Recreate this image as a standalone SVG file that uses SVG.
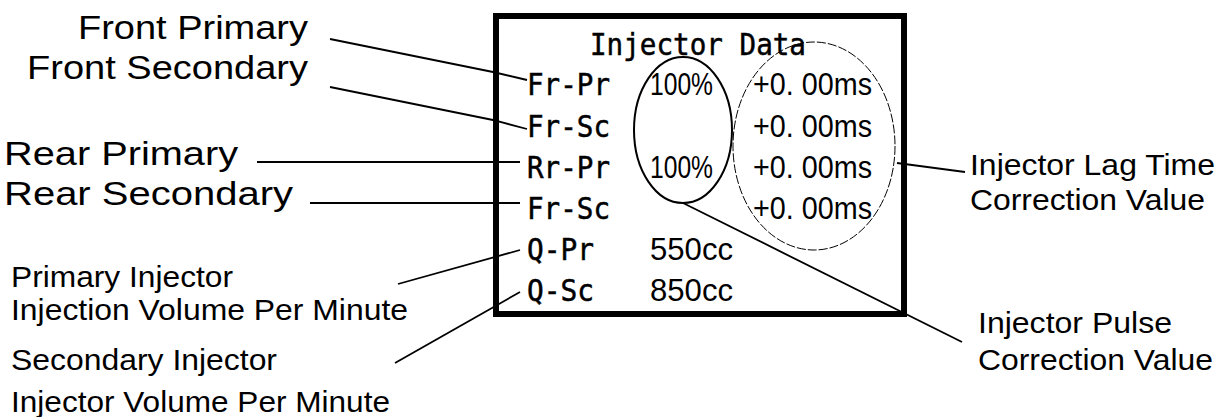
<svg xmlns="http://www.w3.org/2000/svg" width="1219" height="417" viewBox="0 0 1219 417">
<style>
.lbl{font-family:"Liberation Sans",Arial,sans-serif;fill:#000}
.big{font-size:34px}
.sm{font-size:30px}
.mono{font-family:"DejaVu Sans Mono","Liberation Mono",monospace;font-size:30px;fill:#000;stroke:#000;stroke-width:0.5}
.val{font-family:"Liberation Sans",Arial,sans-serif;font-size:31px;fill:#000}
.ln{fill:none;stroke:#000;stroke-width:1.8}
</style>
<rect width="1219" height="417" fill="#fff"/>
<g id="connectors">
<polyline class="ln" points="330,39 493,72 527,80"/>
<polyline class="ln" points="330,87 493,120 527,129"/>
<line class="ln" x1="257" y1="162" x2="520" y2="162"/>
<line class="ln" x1="310" y1="203" x2="520" y2="203"/>
<line class="ln" x1="398" y1="284" x2="520" y2="250"/>
<line class="ln" x1="395" y1="363" x2="520" y2="292"/>
<line class="ln" x1="897" y1="163" x2="965" y2="172"/>
<line class="ln" x1="683" y1="203" x2="962" y2="342"/>
</g>
<g id="display">
<rect x="496" y="16" width="408" height="298" fill="none" stroke="#000" stroke-width="6"/>
<text class="mono" x="590" y="55" textLength="216" lengthAdjust="spacingAndGlyphs">Injector Data</text>
<text class="mono" x="527" y="95" textLength="83" lengthAdjust="spacingAndGlyphs">Fr-Pr</text>
<text class="mono" x="527" y="137" textLength="83" lengthAdjust="spacingAndGlyphs">Fr-Sc</text>
<text class="mono" x="527" y="178" textLength="83" lengthAdjust="spacingAndGlyphs">Rr-Pr</text>
<text class="mono" x="527" y="219" textLength="83" lengthAdjust="spacingAndGlyphs">Fr-Sc</text>
<text class="mono" x="527" y="260" textLength="67" lengthAdjust="spacingAndGlyphs">Q-Pr</text>
<text class="mono" x="527" y="301" textLength="67" lengthAdjust="spacingAndGlyphs">Q-Sc</text>
<text class="val" x="650" y="95" textLength="63" lengthAdjust="spacingAndGlyphs">100%</text>
<text class="val" x="650" y="178" textLength="63" lengthAdjust="spacingAndGlyphs">100%</text>
<text class="val" x="753" y="95" textLength="119" lengthAdjust="spacingAndGlyphs">+0. 00ms</text>
<text class="val" x="753" y="137" textLength="119" lengthAdjust="spacingAndGlyphs">+0. 00ms</text>
<text class="val" x="753" y="178" textLength="119" lengthAdjust="spacingAndGlyphs">+0. 00ms</text>
<text class="val" x="753" y="219" textLength="119" lengthAdjust="spacingAndGlyphs">+0. 00ms</text>
<text class="val" x="650" y="260" textLength="83" lengthAdjust="spacingAndGlyphs">550cc</text>
<text class="val" x="650" y="301" textLength="83" lengthAdjust="spacingAndGlyphs">850cc</text>
</g>
<g id="pulse-ellipse">
<ellipse cx="683" cy="130" rx="49" ry="73" fill="none" stroke="#000" stroke-width="2"/>
</g>
<g id="lag-ellipse">
<ellipse cx="814" cy="146" rx="81" ry="104" fill="none" stroke="#000" stroke-width="1" stroke-dasharray="9 2"/>
</g>
<g id="front-primary"><text class="lbl big" x="78" y="39" textLength="230" lengthAdjust="spacingAndGlyphs">Front Primary</text></g>
<g id="front-secondary"><text class="lbl big" x="27" y="79" textLength="281" lengthAdjust="spacingAndGlyphs">Front Secondary</text></g>
<g id="rear-primary"><text class="lbl big" x="4" y="165" textLength="234" lengthAdjust="spacingAndGlyphs">Rear Primary</text></g>
<g id="rear-secondary"><text class="lbl big" x="4" y="205" textLength="289" lengthAdjust="spacingAndGlyphs">Rear Secondary</text></g>
<g id="primary-volume">
<text class="lbl sm" x="11" y="287" textLength="222" lengthAdjust="spacingAndGlyphs">Primary Injector</text>
<text class="lbl sm" x="11" y="320" textLength="397" lengthAdjust="spacingAndGlyphs">Injection Volume Per Minute</text>
</g>
<g id="secondary-volume">
<text class="lbl sm" x="11" y="370" textLength="266" lengthAdjust="spacingAndGlyphs">Secondary Injector</text>
<text class="lbl sm" x="11" y="412" textLength="379" lengthAdjust="spacingAndGlyphs">Injector Volume Per Minute</text>
</g>
<g id="lag-label">
<text class="lbl sm" x="970" y="175" textLength="245" lengthAdjust="spacingAndGlyphs">Injector Lag Time</text>
<text class="lbl sm" x="970" y="210" textLength="235" lengthAdjust="spacingAndGlyphs">Correction Value</text>
</g>
<g id="pulse-label">
<text class="lbl sm" x="978" y="333" textLength="194" lengthAdjust="spacingAndGlyphs">Injector Pulse</text>
<text class="lbl sm" x="978" y="370" textLength="235" lengthAdjust="spacingAndGlyphs">Correction Value</text>
</g>
</svg>
